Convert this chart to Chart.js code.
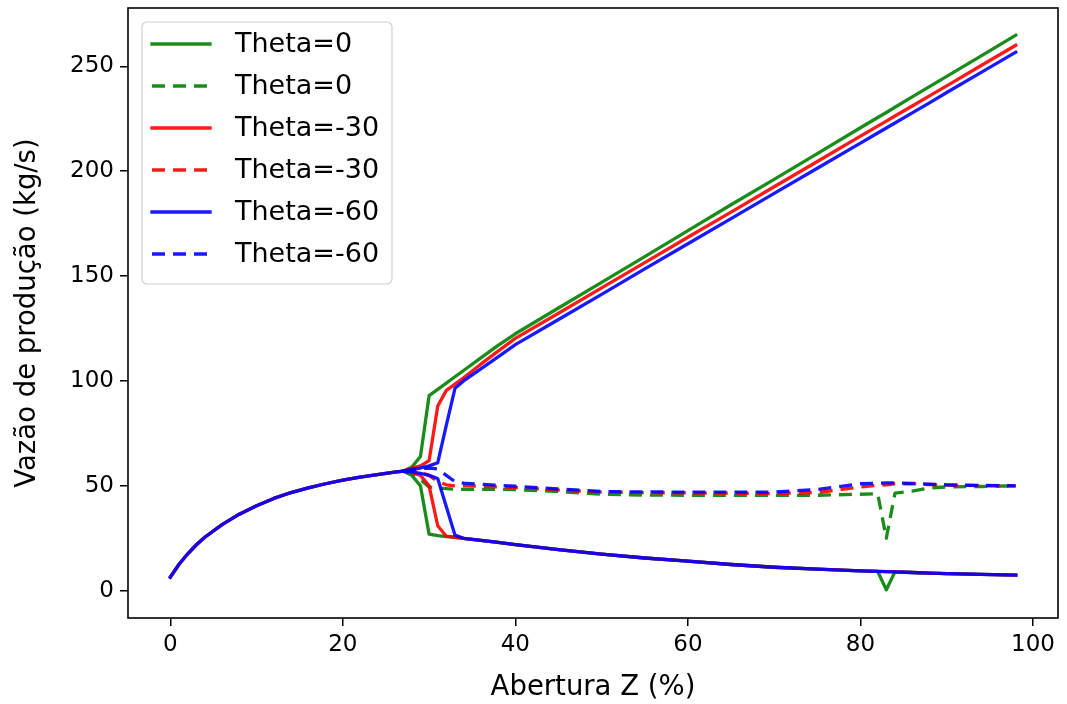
<!DOCTYPE html>
<html>
<head>
<meta charset="utf-8">
<script src="https://cdn.jsdelivr.net/npm/chart.js@4"></script>
<style>
  html, body { margin: 0; padding: 0; background: #fff; }
  #wrap { width: 1067px; height: 704px; }
</style>
</head>
<body>
<div id="wrap"><canvas id="chart" width="1067" height="704"></canvas></div>
<script>
// eixo x: parte comum (0..27) e ramos depois da bifurcacao (28..98)
const xShared = [0, 1, 2, 3, 4, 6, 8, 10, 12, 14, 16, 18, 20, 22, 24, 26, 27];
const yShared = [6.5, 12.5, 17.5, 21.8, 25.5, 31.5, 36.5, 40.5, 44, 46.8, 49, 51, 52.7, 54.2, 55.4, 56.5, 57];

const xBranch = [28, 29, 30, 31, 32, 33, 34, 36, 38, 40, 45, 50, 55, 60, 65, 70, 75, 80, 82, 83, 84, 86, 88, 90, 94, 98];

// Theta=0
const upper0  = [59, 64, 93, 96, 99, 102, 105, 111, 117, 122.5, 134.8, 147, 159.3, 171.7, 184, 196.1, 208.4, 220.7, 225.6, 228, 230.5, 235.4, 240.3, 245.2, 255, 264.8];
const lower0  = [55, 50, 27, 26.3, 25.8, 25.4, 25, 24, 23, 22, 19.6, 17.4, 15.6, 14.1, 12.5, 11.2, 10.3, 9.5, 9.2, 0.5, 9, 8.7, 8.4, 8.2, 7.8, 7.5];
const dashed0 = [56, 53, 49.5, 49, 48.7, 48.3, 48.3, 48.3, 48.3, 48.2, 47.3, 46, 45.6, 45.5, 45.5, 45.5, 45.5, 46, 46.3, 25, 46.5, 47.5, 49, 49.5, 49.7, 50];

// Theta=-30
const upper30  = [58.5, 59.5, 62, 88, 95.5, 98.5, 101.5, 108, 114.2, 120.3, 132.3, 144.4, 156.4, 168.5, 180.5, 192.6, 204.6, 216.7, 221.5, 223.9, 226.3, 231.1, 235.9, 240.7, 250.4, 260];
const lower30  = [56.3, 55, 50, 31, 26, 25.5, 25, 24, 23, 22, 19.6, 17.4, 15.6, 14.1, 12.5, 11.2, 10.3, 9.5, 9.2, 9.1, 9, 8.7, 8.4, 8.2, 7.8, 7.5];
const dashed30 = [57, 56.5, 55, 52, 50.5, 50, 50, 49.8, 49.5, 49.2, 48, 47, 46.8, 46.6, 46.5, 46.3, 46.8, 49.5, 50.2, 50.5, 51, 51, 50.6, 50.3, 50.1, 50];

// Theta=-60
const upper60  = [57.8, 58.5, 59.5, 61, 79, 96.5, 100, 105.8, 111.5, 117.3, 129.3, 141.3, 153.4, 165.4, 177.4, 189.4, 201.4, 213.4, 218.2, 220.6, 223, 227.8, 232.6, 237.5, 247.1, 256.7];
const lower60  = [56.7, 56, 55, 53.5, 40, 26.5, 25, 24, 23, 22, 19.6, 17.4, 15.6, 14.1, 12.5, 11.2, 10.3, 9.5, 9.2, 9.1, 9, 8.7, 8.4, 8.2, 7.8, 7.5];
const dashed60 = [57.6, 58.2, 58.5, 58, 55, 52, 51.3, 50.8, 50.3, 49.8, 48.5, 47.3, 47.1, 47, 47, 47, 48.3, 51, 51.3, 51.4, 51.4, 51.2, 50.8, 50.5, 50.2, 50];

const xTicks = [0, 20, 40, 60, 80, 100];
const yTicks = [0, 50, 100, 150, 200, 250];

const thetaLabels = ['Theta=0', 'Theta=-30', 'Theta=-60'];
const thetaColors = ['rgba(0,128,0,0.9)', 'rgba(255,0,0,0.9)', 'rgba(0,0,255,0.9)'];
const branches = [
  { upper: upper0, lower: lower0, dashed: dashed0 },
  { upper: upper30, lower: lower30, dashed: dashed30 },
  { upper: upper60, lower: lower60, dashed: dashed60 }
];

const DASH = [13, 8];
const LW = 3.3;
const TICK_FS = 23;
const LABEL_FS = 27.5;
const LEGEND_FS = 27;

function pts(xsArr, ysArr) {
  return xsArr.map((x, i) => ({ x: x, y: ysArr[i] }));
}

// monta os datasets na ordem do matplotlib (verde, vermelho, azul)
let datasets = [];
branches.forEach((b, i) => {
  const lastX = xShared[xShared.length - 1];
  const lastY = yShared[yShared.length - 1];
  const color = thetaColors[i];
  datasets.push({
    label: thetaLabels[i], legend: true, dash: [],
    data: pts(xShared, yShared).concat(pts(xBranch, b.upper)),
    borderColor: color, borderWidth: LW, borderCapStyle: 'square'
  });
  datasets.push({
    label: thetaLabels[i], legend: false, dash: [],
    data: [{ x: lastX, y: lastY }].concat(pts(xBranch, b.lower)),
    borderColor: color, borderWidth: LW, borderCapStyle: 'square'
  });
  datasets.push({
    label: thetaLabels[i], legend: true, dash: DASH,
    data: [{ x: lastX, y: lastY }].concat(pts(xBranch, b.dashed)),
    borderColor: color, borderWidth: LW, borderDash: DASH, borderCapStyle: 'butt'
  });
});
datasets.forEach(d => {
  d.pointRadius = 0;
  d.tension = 0;
  d.fill = false;
  d.borderJoinStyle = 'round';
});
// no Chart.js o primeiro dataset fica por cima
datasets.reverse();

// moldura e legenda dentro da area do grafico
const frameLegend = {
  id: 'frameLegend',
  afterDraw(chart) {
    const { ctx, chartArea: a } = chart;
    ctx.save();
    ctx.strokeStyle = '#000';
    ctx.lineWidth = 1.6;
    ctx.setLineDash([]);
    ctx.strokeRect(a.left, a.top, a.right - a.left, a.bottom - a.top);

    const items = chart.data.datasets.filter(d => d.legend).reverse();
    const bx = a.left + 14, by = a.top + 14, bw = 250, bh = 262, r = 5;
    ctx.beginPath();
    ctx.moveTo(bx + r, by);
    ctx.arcTo(bx + bw, by, bx + bw, by + bh, r);
    ctx.arcTo(bx + bw, by + bh, bx, by + bh, r);
    ctx.arcTo(bx, by + bh, bx, by, r);
    ctx.arcTo(bx, by, bx + bw, by, r);
    ctx.closePath();
    ctx.fillStyle = 'rgba(255,255,255,0.8)';
    ctx.fill();
    ctx.strokeStyle = '#d0d0d0';
    ctx.lineWidth = 1.2;
    ctx.stroke();

    ctx.font = LEGEND_FS + 'px "DejaVu Sans"';
    ctx.textBaseline = 'middle';
    ctx.fillStyle = '#000';
    items.forEach((d, i) => {
      const y = by + 22 + i * 42;
      ctx.beginPath();
      ctx.strokeStyle = d.borderColor;
      ctx.lineWidth = LW;
      ctx.lineCap = d.dash.length ? 'butt' : 'square';
      ctx.setLineDash(d.dash);
      ctx.moveTo(bx + 10, y);
      ctx.lineTo(bx + 68, y);
      ctx.stroke();
      ctx.fillText(d.label, bx + 93, y + 1);
    });
    ctx.restore();
  }
};

Chart.defaults.font.family = '"DejaVu Sans", sans-serif';
Chart.defaults.color = '#000';

new Chart(document.getElementById('chart'), {
  type: 'line',
  data: { datasets: datasets },
  options: {
    responsive: false,
    animation: false,
    events: [],
    layout: { padding: { top: 8, right: 9, left: 0, bottom: 0 } },
    plugins: { legend: { display: false }, tooltip: { enabled: false } },
    scales: {
      x: {
        type: 'linear',
        min: -4.9,
        max: 102.9,
        afterBuildTicks: s => { s.ticks = xTicks.map(v => ({ value: v })); },
        afterFit: s => { s.height = 86; s.paddingLeft = 0; s.paddingRight = 0; },
        grid: { drawOnChartArea: false, drawTicks: true, tickLength: 8, color: '#000', lineWidth: 1.5 },
        border: { display: false },
        ticks: { font: { size: TICK_FS }, padding: 5, maxRotation: 0 },
        title: { display: true, text: 'Abertura Z (%)', font: { size: LABEL_FS }, padding: { top: 0, bottom: 0 } }
      },
      y: {
        type: 'linear',
        min: -13,
        max: 277.8,
        afterBuildTicks: s => { s.ticks = yTicks.map(v => ({ value: v })); },
        afterFit: s => { s.width = 128; s.paddingTop = 0; s.paddingBottom = 0; },
        grid: { drawOnChartArea: false, drawTicks: true, tickLength: 8, color: '#000', lineWidth: 1.5 },
        border: { display: false },
        ticks: { font: { size: TICK_FS }, padding: 6 },
        title: { display: true, text: 'Vazão de produção (kg/s)', font: { size: LABEL_FS }, padding: { top: 11, bottom: 0 } }
      }
    }
  },
  plugins: [frameLegend]
});
</script>
</body>
</html>
